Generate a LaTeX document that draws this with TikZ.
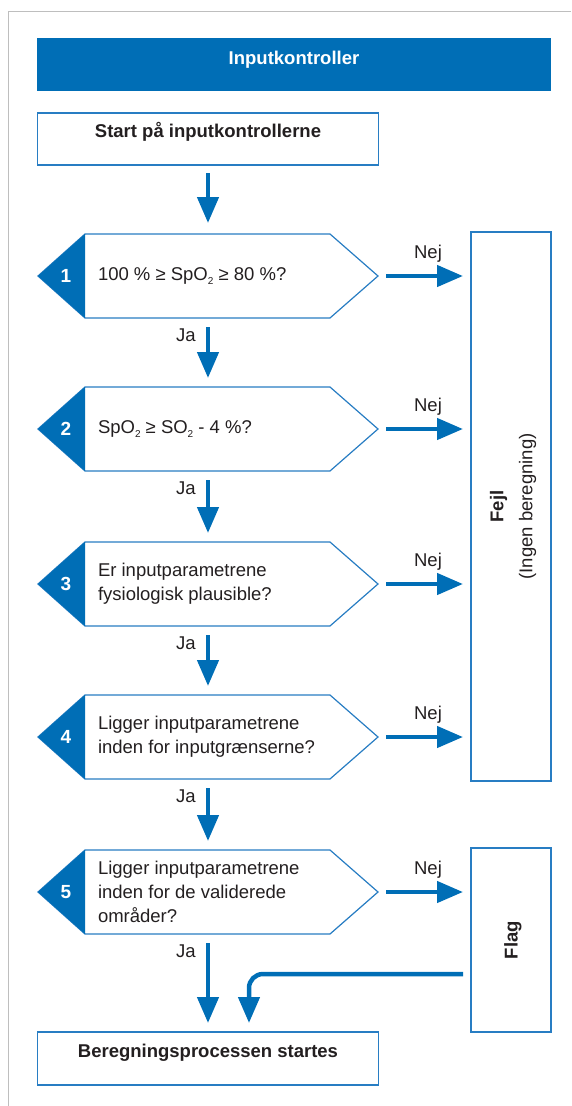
\documentclass[tikz,border=0pt]{standalone}
\usepackage{fontspec}
\setmainfont{Liberation Sans}
\usetikzlibrary{arrows.meta,calc}

\definecolor{rblue}{RGB}{0,110,182}
\definecolor{rline}{RGB}{40,125,195}
\definecolor{ink}{RGB}{35,31,32}
\definecolor{framegray}{RGB}{190,190,190}

% lowered small "2" for SpO2 / SO2
\newcommand\subtwo{\raisebox{-0.5ex}{\fontsize{10}{10}\selectfont 2}}

\begin{document}
\begin{tikzpicture}[x=1pt,y=-1pt,
  every node/.style={inner sep=0pt, outer sep=0pt, text=ink,
    font=\fontsize{18.5}{24}\selectfont},
  box/.style={draw=rline, line width=1.2pt, fill=white, rectangle},
  hexbody/.style={rectangle, minimum width=340pt, minimum height=84pt},
  hexline/.style={draw=rline, line width=1.2pt, line join=miter},
  qtext/.style={anchor=west, align=left},
  num/.style={text=white, font=\fontsize{19}{19}\selectfont\bfseries},
  flow/.style={draw=rblue, line width=4.5pt, -{Triangle[length=26pt,width=21pt]}},
]
\useasboundingbox (0,0) rectangle (571,1106);

% page frame
\draw[framegray, line width=1.5pt] (8.5,1106) -- (8.5,11.5) -- (571,11.5);

% title bar
\node[fill=rblue, minimum width=514pt, minimum height=53pt] (hdr) at (294,64.5) {};
\node[text=white, font=\fontsize{18.5}{24}\selectfont\bfseries, anchor=base] (hdrt) at (294,64) {Inputkontroller};

% start and end boxes
\node[box, minimum width=341pt, minimum height=52pt] (start) at (208,139) {};
\node[font=\fontsize{18.5}{24}\selectfont\bfseries, anchor=base] (startt) at (208,137.5) {Start på inputkontrollerne};

\node[box, minimum width=341pt, minimum height=53pt] (bot) at (208,1058.5) {};
\node[font=\fontsize{18.5}{24}\selectfont\bfseries, anchor=base] (bott) at (208,1057) {Beregningsprocessen startes};

% decision hexagons with numbered tabs
\foreach \i/\y in {1/276,2/429,3/584,4/737,5/892} {
  \node[hexbody] (h\i) at (208,\y) {};
  \draw[hexline, fill=white] (h\i.west) -- ([xshift=47pt]h\i.north west)
    -- ([xshift=-48pt]h\i.north east) -- (h\i.east)
    -- ([xshift=-48pt]h\i.south east) -- ([xshift=47pt]h\i.south west) -- cycle;
  \fill[rblue] (h\i.west) -- ([xshift=47pt]h\i.north west)
    -- ([xshift=47pt]h\i.south west) -- cycle;
  \node[num] (n\i) at ([xshift=28pt]h\i.west) {\i};
}

\node[qtext] (q1) at ([xshift=60pt]h1.west) {100 \% ≥ SpO\subtwo{} ≥ 80 \%?};
\node[qtext] (q2) at ([xshift=60pt]h2.west) {SpO\subtwo{} ≥ SO\subtwo{} - 4 \%?};
\node[qtext] (q3) at ([xshift=60pt]h3.west) {Er inputparametrene\\fysiologisk plausible?};
\node[qtext] (q4) at ([xshift=60pt]h4.west) {Ligger inputparametrene\\inden for inputgrænserne?};
\node[qtext] (q5) at ([xshift=60pt]h5.west) {Ligger inputparametrene\\inden for de validerede\\områder?};

% outcome boxes
\node[box, minimum width=80pt, minimum height=549pt] (fejl) at (511,506.5) {};
\node[rotate=90, align=center] (fejlt) at ([xshift=2pt]fejl.center)
  {\textbf{Fejl}\\[5pt](Ingen beregning)};
\node[box, minimum width=80pt, minimum height=184pt] (flag) at (511,940) {};
\node[rotate=90, font=\fontsize{18.5}{24}\selectfont\bfseries] (flagt) at ([xshift=2pt]flag.center) {Flag};

% main flow
\draw[flow] ([yshift=-8pt]start.south) -- ([yshift=11pt]h1.north);
\foreach \a/\b in {1/2,2/3,3/4,4/5} {
  \draw[flow] ([yshift=-9pt]h\a.south) -- ([yshift=9pt]h\b.north);
  \node (ja\a) at ([xshift=-22pt,yshift=-17pt]h\a.south) {Ja};
}
\draw[flow] ([yshift=-9pt]h5.south) -- ([yshift=9pt]bot.north);
\node (ja5) at ([xshift=-22pt,yshift=-17pt]h5.south) {Ja};

% "Nej" branches
\foreach \i in {1,2,3,4} {
  \coordinate (e\i) at (h\i.east -| fejl.west);
  \draw[flow] ([xshift=8pt]h\i.east) -- ([xshift=-8pt]e\i);
  \node (nej\i) at ([xshift=50pt,yshift=22pt]h\i.east) {Nej};
}
\coordinate (e5) at (h5.east -| flag.west);
\draw[flow] ([xshift=8pt]h5.east) -- ([xshift=-8pt]e5);
\node (nej5) at ([xshift=50pt,yshift=22pt]h5.east) {Nej};

% flag returns to the calculation
\coordinate (fr) at ($(flag.west)+(-8,34)$);
\coordinate (fe) at ($(bot.north)+(41,-9)$);
\draw[flow, rounded corners=14pt] (fr) -| (fe);
\end{tikzpicture}
\end{document}
